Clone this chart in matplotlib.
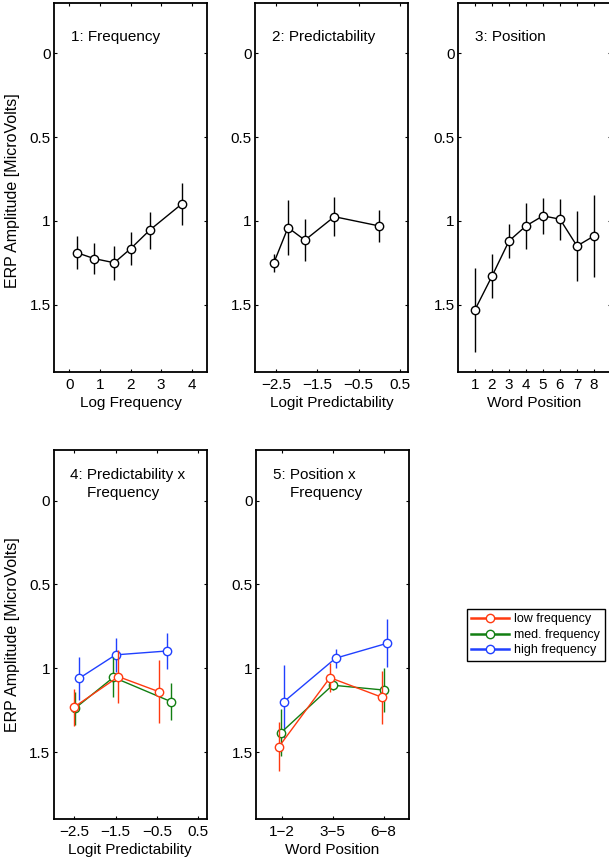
import matplotlib as mpl
mpl.use('Agg')
import matplotlib.pyplot as plt
from matplotlib.lines import Line2D

plt.rcParams['font.family'] = ['Liberation Sans', 'DejaVu Sans']
plt.rcParams['font.size'] = 11

# --- data (ERP amplitude, y axis reversed) ---
freq_x = [0.25, 0.81, 1.47, 2.01, 2.63, 3.67]
freq_y = [1.19, 1.225, 1.25, 1.165, 1.055, 0.90]
freq_err = [0.10, 0.095, 0.10, 0.098, 0.11, 0.127]

pred_x = [-2.55, -2.21, -1.80, -1.09, -0.01]
pred_y = [1.25, 1.04, 1.115, 0.975, 1.03]
pred_err = [0.053, 0.164, 0.126, 0.115, 0.097]

pos_x = [1, 2, 3, 4, 5, 6, 7, 8]
pos_y = [1.53, 1.33, 1.12, 1.03, 0.97, 0.99, 1.15, 1.09]
pos_err = [0.25, 0.13, 0.10, 0.136, 0.107, 0.122, 0.21, 0.244]

# predictability x frequency
pf_low_x = [-2.51, -1.43, -0.46]
pf_low_y = [1.233, 1.05, 1.139]
pf_low_err = [0.11, 0.16, 0.19]
pf_med_x = [-2.48, -1.55, -0.16]
pf_med_y = [1.239, 1.054, 1.199]
pf_med_err = [0.10, 0.12, 0.11]
pf_high_x = [-2.38, -1.50, -0.26]
pf_high_y = [1.06, 0.92, 0.897]
pf_high_err = [0.13, 0.10, 0.105]

# position x frequency
pp_low_x = [0.95, 1.95, 2.97]
pp_low_y = [1.468, 1.056, 1.173]
pp_low_err = [0.145, 0.088, 0.157]
pp_med_x = [0.99, 2.0, 3.01]
pp_med_y = [1.384, 1.101, 1.13]
pp_med_err = [0.14, 0.03, 0.133]
pp_high_x = [1.05, 2.06, 3.07]
pp_high_y = [1.199, 0.94, 0.851]
pp_high_err = [0.22, 0.057, 0.143]

group_labels = ['low frequency', 'med. frequency', 'high frequency']
group_colors = ['#ff3a10', '#127f12', '#2040ff']

y_ticks = [0, 0.5, 1, 1.5]
y_ticklabels = ['0', '0.5', '1', '1.5']
pred_ticks = [-2.5, -1.5, -0.5, 0.5]
pred_ticklabels = ['\u22122.5', '\u22121.5', '\u22120.5', '0.5']
posgroup_ticklabels = ['1\u22122', '3\u22125', '6\u22128']

W, H = 609, 861
fig = plt.figure(figsize=(W / 100, H / 100), dpi=100)


def make_ax(left, top, xlim, title):
    # left/top in pixels
    ax = fig.add_axes([left / W, 1 - (top + 368.7) / H, 153 / W, 368.7 / H])
    ax.set_xlim(*xlim)
    ax.set_ylim(1.9, -0.3)
    ax.set_yticks(y_ticks)
    ax.set_yticklabels(y_ticklabels)
    ax.tick_params(which='major', direction='in', bottom=True, top=True, left=True, right=True,
                   length=2.5, width=0.8, labelsize=11)
    ax.tick_params(axis='x', pad=4.2)
    ax.tick_params(axis='y', pad=2.5)
    for s in ax.spines.values():
        s.set_linewidth(1.3)
    ax.text(0.11, -0.1, title, transform=ax.get_yaxis_transform(), ha='left', va='center',
            fontsize=11, linespacing=1.4)
    return ax


def draw(ax, x, y, err, color, z=3):
    ax.errorbar(x, y, yerr=err, color=color, linewidth=1.0, elinewidth=1.0, capsize=0,
                marker='o', markersize=6, markerfacecolor='white', markeredgecolor=color,
                markeredgewidth=1.0, zorder=z)


# top row
ax1 = make_ax(54, 3, (-0.5, 4.5), '1: Frequency')
draw(ax1, freq_x, freq_y, freq_err, 'black')
ax1.set_xticks([0, 1, 2, 3, 4])
ax1.set_xlabel('Log Frequency', labelpad=3)
ax1.set_ylabel('ERP Amplitude [MicroVolts]', fontsize=11.5)
ax1.yaxis.set_label_coords(-0.22, 0.49)

ax2 = make_ax(255.3, 3, (-3.0, 0.7), '2: Predictability')
draw(ax2, pred_x, pred_y, pred_err, 'black')
ax2.set_xticks(pred_ticks)
ax2.set_xticklabels(pred_ticklabels)
ax2.set_xlabel('Logit Predictability', labelpad=3)

ax3 = make_ax(458, 3, (0, 9), '3: Position')
draw(ax3, pos_x, pos_y, pos_err, 'black')
ax3.set_xticks(pos_x)
ax3.set_xlabel('Word Position', labelpad=3)

# bottom row
ax4 = make_ax(53.5, 450.4, (-3.0, 0.7), '4: Predictability x\n    Frequency')
draw(ax4, pf_high_x, pf_high_y, pf_high_err, group_colors[2], 3)
draw(ax4, pf_med_x, pf_med_y, pf_med_err, group_colors[1], 4)
draw(ax4, pf_low_x, pf_low_y, pf_low_err, group_colors[0], 5)
ax4.set_xticks(pred_ticks)
ax4.set_xticklabels(pred_ticklabels)
ax4.set_xlabel('Logit Predictability', labelpad=3)
ax4.set_ylabel('ERP Amplitude [MicroVolts]', fontsize=11.5)
ax4.yaxis.set_label_coords(-0.22, 0.5)

ax5 = make_ax(256, 450.4, (0.5, 3.5), '5: Position x\n    Frequency')
draw(ax5, pp_high_x, pp_high_y, pp_high_err, group_colors[2], 3)
draw(ax5, pp_med_x, pp_med_y, pp_med_err, group_colors[1], 4)
draw(ax5, pp_low_x, pp_low_y, pp_low_err, group_colors[0], 5)
ax5.set_xticks([1, 2, 3])
ax5.set_xticklabels(posgroup_ticklabels)
ax5.set_xlabel('Word Position', labelpad=3)

# legend
handles = [Line2D([], [], color=c, linewidth=1.8, marker='o', markersize=6,
                  markerfacecolor='white', markeredgecolor=c, markeredgewidth=1.0)
           for c in group_colors]
leg = fig.legend(handles, group_labels, loc='upper left', bbox_to_anchor=(467 / W, 1 - 609 / H),
                 borderaxespad=0, fontsize=9, handlelength=3.0, handletextpad=0.45,
                 labelspacing=0.28, borderpad=0.35, fancybox=False, framealpha=1,
                 edgecolor='black')
leg.get_frame().set_linewidth(1.0)

plt.savefig('out.png', dpi=100)
